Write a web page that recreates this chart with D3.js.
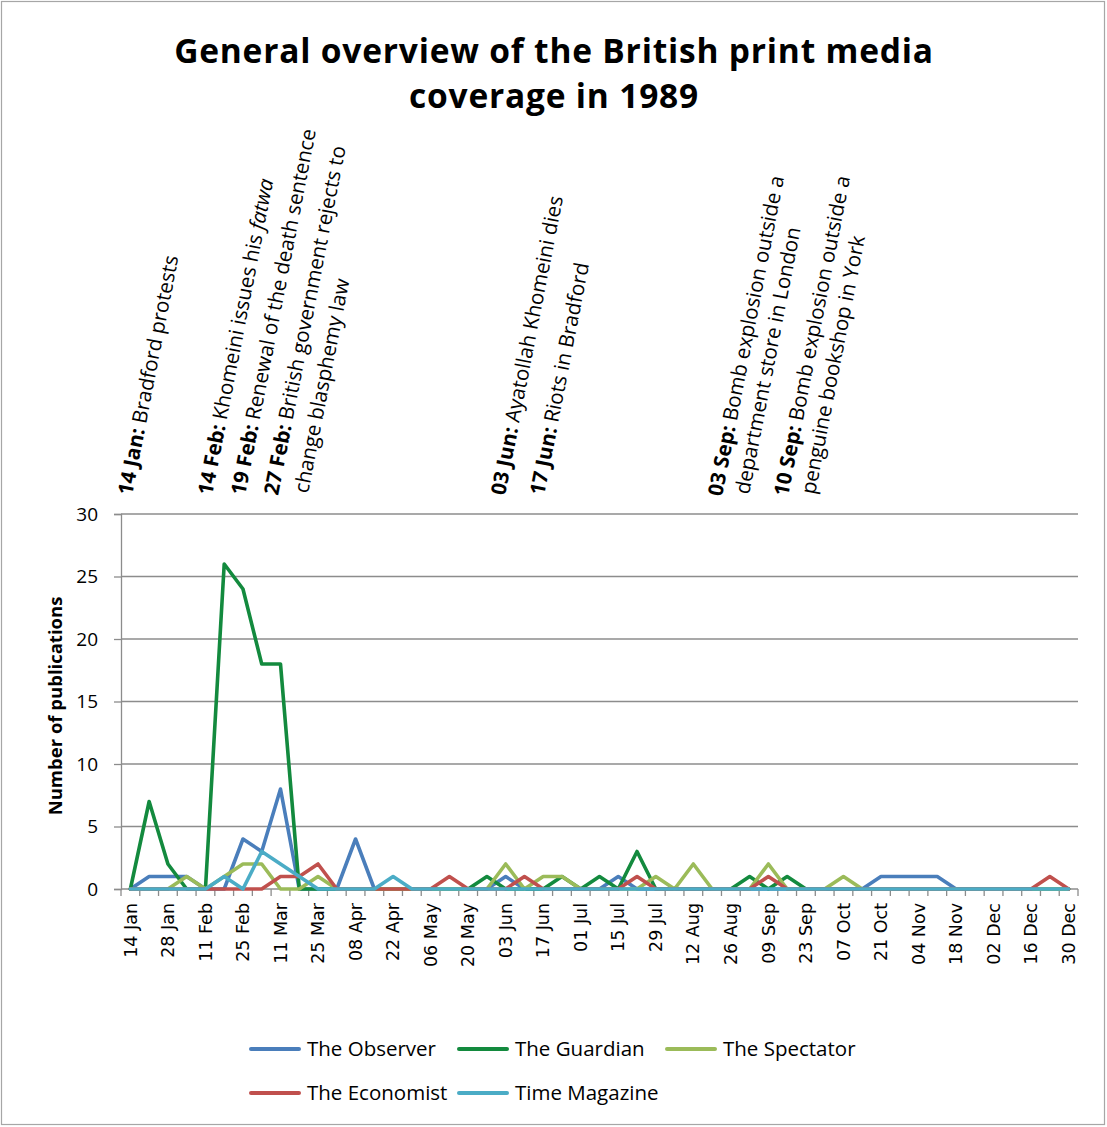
<!DOCTYPE html>
<html>
<head>
<meta charset="utf-8">
<script src="https://cdn.jsdelivr.net/npm/d3@7"></script>
<style>
html,body{margin:0;padding:0;background:#fff;}
svg{display:block;}
</style>
</head>
<body>
<svg id="chart" width="1107" height="1127"></svg>
<script>
// ---------- DATA ----------
const weeks = ["14 Jan","21 Jan","28 Jan","04 Feb","11 Feb","18 Feb","25 Feb","04 Mar","11 Mar","18 Mar",
"25 Mar","01 Apr","08 Apr","15 Apr","22 Apr","29 Apr","06 May","13 May","20 May","27 May",
"03 Jun","10 Jun","17 Jun","24 Jun","01 Jul","08 Jul","15 Jul","22 Jul","29 Jul","05 Aug",
"12 Aug","19 Aug","26 Aug","02 Sep","09 Sep","16 Sep","23 Sep","30 Sep","07 Oct","14 Oct",
"21 Oct","28 Oct","04 Nov","11 Nov","18 Nov","25 Nov","02 Dec","09 Dec","16 Dec","23 Dec","30 Dec"];

const tickLabels = ["14 Jan","28 Jan","11 Feb","25 Feb","11 Mar","25 Mar","08 Apr","22 Apr","06 May","20 May",
"03 Jun","17 Jun","01 Jul","15 Jul","29 Jul","12 Aug","26 Aug","09 Sep","23 Sep","07 Oct",
"21 Oct","04 Nov","18 Nov","02 Dec","16 Dec","30 Dec"];

const yTicks = [0,5,10,15,20,25,30];

const observer  = [0,1,1,1,0,0,4,3,8,0, 0,0,4,0,0,0,0,0,0,0, 1,0,0,0,0,0,1,0,0,0, 0,0,0,0,0,0,0,0,0,0, 1,1,1,1,0,0,0,0,0,0, 0];
const guardian  = [0,7,2,0,0,26,24,18,18,0, 0,0,0,0,0,0,0,0,0,1, 0,0,0,1,0,1,0,3,0,0, 0,0,0,1,0,1,0,0,0,0, 0,0,0,0,0,0,0,0,0,0, 0];
const spectator = [0,0,0,1,0,1,2,2,0,0, 1,0,0,0,0,0,0,0,0,0, 2,0,1,1,0,0,0,0,1,0, 2,0,0,0,2,0,0,0,1,0, 0,0,0,0,0,0,0,0,0,0, 0];
const economist = [0,0,0,0,0,0,0,0,1,1, 2,0,0,0,0,0,0,1,0,0, 0,1,0,0,0,0,0,1,0,0, 0,0,0,0,1,0,0,0,0,0, 0,0,0,0,0,0,0,0,0,1, 0];
const timeMag   = [0,0,0,0,0,1,0,3,2,1, 0,0,0,0,1,0,0,0,0,0, 0,0,0,0,0,0,0,0,0,0, 0,0,0,0,0,0,0,0,0,0, 0,0,0,0,0,0,0,0,0,0, 0];

const seriesNames = ["The Observer","The Guardian","The Spectator","The Economist","Time Magazine"];

const titleLines = ["General overview of the British print media","coverage in 1989"];
const yAxisTitle = "Number of publications";

// annotation lines: [bold part, regular part, italic part]
const annotationLines = [
  ["14 Jan:", " Bradford protests", ""],
  ["14 Feb:", " Khomeini issues his ", "fatwa"],
  ["19 Feb:", " Renewal of the death sentence", ""],
  ["27 Feb:", " British government rejects to", ""],
  ["", "change blasphemy law", ""],
  ["03 Jun:", " Ayatollah Khomeini dies", ""],
  ["17 Jun:", " Riots in Bradford", ""],
  ["03 Sep:", " Bomb explosion outside a", ""],
  ["", "department store in London", ""],
  ["10 Sep:", " Bomb explosion outside a", ""],
  ["", "penguine bookshop in York", ""]
];

// ---------- LAYOUT / STYLE ----------
const colors = ["#4A7EBB","#138A3E","#9BBB59","#C0504D","#4BACC6"];
const seriesData = [observer, guardian, spectator, economist, timeMag];
const annotAnchors = [[132,496],[212,496],[245,496],[278,496],[308,494],[505,496],[544,496],[722,497],[749,495],[788,497],[815,495]];
const bodyFont = "'Open Sans', Lato, sans-serif";

const svg = d3.select("#chart");
const W = 1107, H = 1127;
svg.append("rect").attr("x",1.5).attr("y",1.5).attr("width",W-4).attr("height",H-4)
  .attr("fill","#fff").attr("stroke","#a6a6a6").attr("stroke-width",1.2);

const plotL = 121, plotR = 1078, plotT = 514, plotB = 889;
const x = d3.scaleBand().domain(weeks).range([plotL, plotR]).padding(0);
const y = d3.scaleLinear().domain([0,30]).range([plotB, plotT]);
const cx = d => x(d) + x.bandwidth()/2;

// title
const title = svg.append("text").attr("text-anchor","middle")
  .style("font-family",bodyFont).style("font-weight","700").style("font-size","33.5px")
  .style("letter-spacing","0.8px").attr("fill","#000");
titleLines.forEach((t,i)=>{
  title.append("tspan").attr("x",554).attr("y", 63 + i*45).text(t);
});

// gridlines
svg.append("g").selectAll("line").data(yTicks.filter(v=>v>0)).join("line")
  .attr("x1",plotL).attr("x2",plotR).attr("y1",d=>y(d)).attr("y2",d=>y(d))
  .attr("stroke","#8c8c8c").attr("stroke-width",1.3);

// y axis
const yAxis = svg.append("g").attr("transform",`translate(${plotL},0)`)
  .call(d3.axisLeft(y).tickValues(yTicks).tickSize(7).tickPadding(16).tickFormat(d3.format("d")));
yAxis.select(".domain").attr("stroke","#8c8c8c").attr("stroke-width",1.3);
yAxis.selectAll(".tick line").attr("stroke","#8c8c8c").attr("stroke-width",1.3);
yAxis.selectAll(".tick text").style("font-family",bodyFont).style("font-size","19px").attr("fill","#000");

// y axis title
svg.append("text").attr("transform","translate(62,706) rotate(-90)").attr("text-anchor","middle")
  .style("font-family",bodyFont).style("font-weight","700").style("font-size","18.5px").text(yAxisTitle);

// x axis
const xAxis = svg.append("g").attr("transform",`translate(0,${plotB})`)
  .call(d3.axisBottom(x).tickValues(tickLabels).tickSize(0).tickPadding(0));
xAxis.select(".domain").remove();
xAxis.selectAll(".tick text")
  .style("font-family","'DejaVu Sans', sans-serif").style("font-size","17.5px").attr("fill","#000")
  .attr("text-anchor","end").attr("transform","translate(0,14) rotate(-90)").attr("x",0).attr("y",0).attr("dy","0.35em");
svg.append("line").attr("x1",plotL).attr("x2",plotR).attr("y1",plotB).attr("y2",plotB)
  .attr("stroke","#8c8c8c").attr("stroke-width",1.3);
const boundaries = weeks.map(w=>x(w)).concat([x(weeks[weeks.length-1]) + x.bandwidth()]);
svg.append("g").selectAll("line").data(boundaries).join("line")
  .attr("x1",d=>d).attr("x2",d=>d).attr("y1",plotB).attr("y2",plotB+7)
  .attr("stroke","#8c8c8c").attr("stroke-width",1.3);

// lines
const line = d3.line().x((d,i)=>cx(weeks[i])).y(d=>y(d));
seriesData.forEach((s,k)=>{
  svg.append("path").datum(s).attr("d",line).attr("fill","none")
    .attr("stroke",colors[k]).attr("stroke-width",3.6).attr("stroke-linejoin","round").attr("stroke-linecap","round");
});

// annotations
annotationLines.forEach((a,i)=>{
  const [ax, ay] = annotAnchors[i];
  const t = svg.append("text").attr("transform",`translate(${ax},${ay}) rotate(-79)`)
    .style("font-family",bodyFont).style("font-size","20.6px").attr("fill","#000");
  if (a[0]) t.append("tspan").style("font-weight","700").text(a[0]);
  if (a[1]) t.append("tspan").attr("xml:space","preserve").style("white-space","pre").text(a[1]);
  if (a[2]) t.append("tspan").style("font-style","italic").text(a[2]);
});

// legend
const legendPos = [[251,1049],[459,1049],[667,1049],[251,1093],[459,1093]];
seriesNames.forEach((n,k)=>{
  const [lx,ly] = legendPos[k];
  svg.append("line").attr("x1",lx).attr("x2",lx+48).attr("y1",ly).attr("y2",ly)
    .attr("stroke",colors[k]).attr("stroke-width",4).attr("stroke-linecap","round");
  svg.append("text").attr("x",lx+56).attr("y",ly).attr("dy","0.35em")
    .style("font-family",bodyFont).style("font-size","20.5px").attr("fill","#000").text(n);
});
</script>
</body>
</html>
